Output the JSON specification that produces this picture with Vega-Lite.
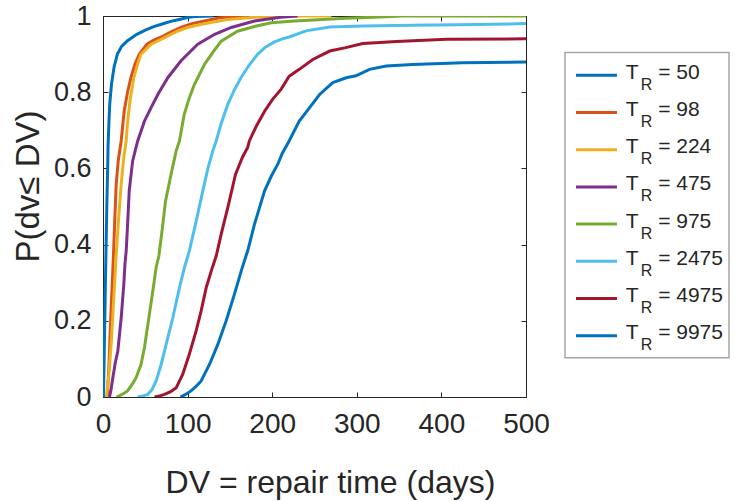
{
  "$schema": "https://vega.github.io/schema/vega-lite/v6.json",
  "background": "white",
  "padding": {"left": 11, "top": 1, "right": 5, "bottom": 2},
  "bounds": "flush",
  "spacing": 39,
  "config": {
    "font": "Liberation Sans",
    "axis": {"domain": false, "grid": false, "labelColor": "#262626", "titleColor": "#262626", "tickColor": "#262626", "labelFont": "Liberation Sans", "titleFont": "Liberation Sans", "titleFontWeight": "normal", "labelFlush": false},
    "view": {"stroke": "#262626", "strokeWidth": 1}
  },
  "datasets": {
    "cdf": [
      {"s":"50","x":0.5,"p":0},{"s":"50","x":1.5,"p":0.12},{"s":"50","x":2.5,"p":0.25},{"s":"50","x":3.5,"p":0.38},{"s":"50","x":4.5,"p":0.5},{"s":"50","x":5.5,"p":0.6},{"s":"50","x":6,"p":0.66},{"s":"50","x":7,"p":0.72},{"s":"50","x":8,"p":0.77},{"s":"50","x":10,"p":0.82},{"s":"50","x":13,"p":0.865},{"s":"50","x":17,"p":0.9},{"s":"50","x":22,"p":0.92},{"s":"50","x":29,"p":0.935},{"s":"50","x":40,"p":0.952},{"s":"50","x":50,"p":0.963},{"s":"50","x":60,"p":0.972},{"s":"50","x":70,"p":0.979},{"s":"50","x":80,"p":0.986},{"s":"50","x":90,"p":0.991},{"s":"50","x":100,"p":0.996},{"s":"50","x":110,"p":0.999},{"s":"50","x":130,"p":1.0},
      {"s":"98","x":5,"p":0},{"s":"98","x":7,"p":0.08},{"s":"98","x":9,"p":0.2},{"s":"98","x":11,"p":0.3},{"s":"98","x":12.5,"p":0.38},{"s":"98","x":14,"p":0.47},{"s":"98","x":15.6,"p":0.558},{"s":"98","x":18,"p":0.62},{"s":"98","x":21.5,"p":0.672},{"s":"98","x":25,"p":0.75},{"s":"98","x":29,"p":0.8},{"s":"98","x":33,"p":0.838},{"s":"98","x":38,"p":0.875},{"s":"98","x":43,"p":0.9},{"s":"98","x":52,"p":0.926},{"s":"98","x":60,"p":0.937},{"s":"98","x":69,"p":0.945},{"s":"98","x":80,"p":0.958},{"s":"98","x":92,"p":0.97},{"s":"98","x":105,"p":0.98},{"s":"98","x":120,"p":0.987},{"s":"98","x":135,"p":0.994},{"s":"98","x":150,"p":0.998},{"s":"98","x":170,"p":1.0},
      {"s":"224","x":4,"p":0},{"s":"224","x":7,"p":0.06},{"s":"224","x":10,"p":0.15},{"s":"224","x":12.5,"p":0.25},{"s":"224","x":15.5,"p":0.37},{"s":"224","x":18.5,"p":0.47},{"s":"224","x":21.5,"p":0.558},{"s":"224","x":24.6,"p":0.63},{"s":"224","x":27.4,"p":0.672},{"s":"224","x":29,"p":0.72},{"s":"224","x":32,"p":0.78},{"s":"224","x":36.5,"p":0.838},{"s":"224","x":41,"p":0.875},{"s":"224","x":45,"p":0.9},{"s":"224","x":57,"p":0.926},{"s":"224","x":72.7,"p":0.943},{"s":"224","x":88,"p":0.96},{"s":"224","x":100,"p":0.97},{"s":"224","x":116,"p":0.978},{"s":"224","x":147,"p":0.991},{"s":"224","x":180,"p":0.997},{"s":"224","x":210,"p":1.0},{"s":"224","x":270,"p":1.0},
      {"s":"475","x":7.7,"p":0},{"s":"475","x":9.5,"p":0.02},{"s":"475","x":11.6,"p":0.05},{"s":"475","x":14.5,"p":0.09},{"s":"475","x":17.5,"p":0.12},{"s":"475","x":21.5,"p":0.208},{"s":"475","x":24.6,"p":0.296},{"s":"475","x":26,"p":0.35},{"s":"475","x":27.4,"p":0.383},{"s":"475","x":29,"p":0.45},{"s":"475","x":31,"p":0.541},{"s":"475","x":35,"p":0.619},{"s":"475","x":38,"p":0.646},{"s":"475","x":41,"p":0.672},{"s":"475","x":49,"p":0.724},{"s":"475","x":57,"p":0.76},{"s":"475","x":64.8,"p":0.794},{"s":"475","x":76.6,"p":0.838},{"s":"475","x":92,"p":0.882},{"s":"475","x":112,"p":0.926},{"s":"475","x":132,"p":0.952},{"s":"475","x":151.5,"p":0.97},{"s":"475","x":179,"p":0.987},{"s":"475","x":210,"p":0.997},{"s":"475","x":230,"p":1.0},
      {"s":"975","x":16,"p":0},{"s":"975","x":22,"p":0.006},{"s":"975","x":29,"p":0.016},{"s":"975","x":35,"p":0.035},{"s":"975","x":39,"p":0.05},{"s":"975","x":45,"p":0.086},{"s":"975","x":49,"p":0.13},{"s":"975","x":53,"p":0.19},{"s":"975","x":58.9,"p":0.278},{"s":"975","x":62.8,"p":0.34},{"s":"975","x":66,"p":0.37},{"s":"975","x":70,"p":0.44},{"s":"975","x":73.9,"p":0.514},{"s":"975","x":80,"p":0.58},{"s":"975","x":86.5,"p":0.646},{"s":"975","x":90.4,"p":0.672},{"s":"975","x":96,"p":0.742},{"s":"975","x":102,"p":0.785},{"s":"975","x":108,"p":0.82},{"s":"975","x":120,"p":0.873},{"s":"975","x":130,"p":0.905},{"s":"975","x":139.7,"p":0.934},{"s":"975","x":159,"p":0.96},{"s":"975","x":180,"p":0.973},{"s":"975","x":199,"p":0.982},{"s":"975","x":226,"p":0.987},{"s":"975","x":260,"p":0.991},{"s":"975","x":287,"p":0.994},{"s":"975","x":320,"p":0.997},{"s":"975","x":354,"p":1.0},{"s":"975","x":500,"p":1.0},
      {"s":"2475","x":41,"p":0},{"s":"2475","x":47,"p":0.003},{"s":"2475","x":53,"p":0.007},{"s":"2475","x":58,"p":0.02},{"s":"2475","x":62.8,"p":0.042},{"s":"2475","x":68.8,"p":0.086},{"s":"2475","x":74.7,"p":0.139},{"s":"2475","x":82.5,"p":0.208},{"s":"2475","x":90.4,"p":0.287},{"s":"2475","x":96.3,"p":0.34},{"s":"2475","x":102,"p":0.383},{"s":"2475","x":110,"p":0.46},{"s":"2475","x":118,"p":0.541},{"s":"2475","x":124,"p":0.6},{"s":"2475","x":129.8,"p":0.646},{"s":"2475","x":133.8,"p":0.672},{"s":"2475","x":140,"p":0.72},{"s":"2475","x":147.5,"p":0.768},{"s":"2475","x":155,"p":0.805},{"s":"2475","x":163,"p":0.838},{"s":"2475","x":173,"p":0.872},{"s":"2475","x":183,"p":0.9},{"s":"2475","x":192,"p":0.918},{"s":"2475","x":202.7,"p":0.932},{"s":"2475","x":212,"p":0.94},{"s":"2475","x":220,"p":0.945},{"s":"2475","x":240,"p":0.961},{"s":"2475","x":268,"p":0.971},{"s":"2475","x":307,"p":0.974},{"s":"2475","x":366,"p":0.976},{"s":"2475","x":445,"p":0.978},{"s":"2475","x":500,"p":0.98},
      {"s":"4975","x":61,"p":0},{"s":"4975","x":67,"p":0.003},{"s":"4975","x":72.7,"p":0.007},{"s":"4975","x":80,"p":0.014},{"s":"4975","x":86.5,"p":0.024},{"s":"4975","x":94.3,"p":0.06},{"s":"4975","x":102,"p":0.112},{"s":"4975","x":110,"p":0.173},{"s":"4975","x":116,"p":0.226},{"s":"4975","x":122,"p":0.287},{"s":"4975","x":128,"p":0.331},{"s":"4975","x":133.8,"p":0.37},{"s":"4975","x":140,"p":0.43},{"s":"4975","x":147.5,"p":0.497},{"s":"4975","x":156.6,"p":0.584},{"s":"4975","x":165,"p":0.63},{"s":"4975","x":171,"p":0.655},{"s":"4975","x":173,"p":0.672},{"s":"4975","x":181,"p":0.71},{"s":"4975","x":191,"p":0.75},{"s":"4975","x":200,"p":0.78},{"s":"4975","x":210.6,"p":0.808},{"s":"4975","x":220,"p":0.842},{"s":"4975","x":232,"p":0.86},{"s":"4975","x":248,"p":0.886},{"s":"4975","x":268,"p":0.908},{"s":"4975","x":287,"p":0.917},{"s":"4975","x":307,"p":0.928},{"s":"4975","x":347,"p":0.933},{"s":"4975","x":406,"p":0.939},{"s":"4975","x":500,"p":0.94},
      {"s":"9975","x":91.6,"p":0},{"s":"9975","x":97,"p":0.006},{"s":"9975","x":104,"p":0.016},{"s":"9975","x":110,"p":0.028},{"s":"9975","x":116,"p":0.042},{"s":"9975","x":126,"p":0.086},{"s":"9975","x":135.7,"p":0.138},{"s":"9975","x":145.6,"p":0.2},{"s":"9975","x":155.4,"p":0.27},{"s":"9975","x":163.4,"p":0.331},{"s":"9975","x":169,"p":0.37},{"s":"9975","x":171,"p":0.383},{"s":"9975","x":179,"p":0.453},{"s":"9975","x":191,"p":0.541},{"s":"9975","x":199,"p":0.58},{"s":"9975","x":206.6,"p":0.611},{"s":"9975","x":212,"p":0.64},{"s":"9975","x":220,"p":0.672},{"s":"9975","x":232,"p":0.724},{"s":"9975","x":244,"p":0.759},{"s":"9975","x":256,"p":0.794},{"s":"9975","x":271.6,"p":0.825},{"s":"9975","x":287.5,"p":0.838},{"s":"9975","x":299,"p":0.843},{"s":"9975","x":315,"p":0.86},{"s":"9975","x":334.7,"p":0.869},{"s":"9975","x":366,"p":0.873},{"s":"9975","x":425,"p":0.877},{"s":"9975","x":500,"p":0.879}
    ],
    "leg": [
      {"s":"50","i":0,"lab":"= 50"},{"s":"98","i":1,"lab":"= 98"},{"s":"224","i":2,"lab":"= 224"},{"s":"475","i":3,"lab":"= 475"},
      {"s":"975","i":4,"lab":"= 975"},{"s":"2475","i":5,"lab":"= 2475"},{"s":"4975","i":6,"lab":"= 4975"},{"s":"9975","i":7,"lab":"= 9975"}
    ]
  },
  "hconcat": [
    {
      "width": 423,
      "height": 381,
      "data": {"name": "cdf"},
      "layer": [
        {
          "mark": {"type": "line", "strokeWidth": 3, "clip": true},
          "encoding": {
            "x": {"field": "x", "type": "quantitative", "scale": {"domain": [0, 500], "nice": false},
                  "axis": {"values": [0,100,200,300,400,500], "tickSize": -5, "labelFontSize": 28, "labelPadding": 18, "title": "DV = repair time (days)", "titleFontSize": 32, "titlePadding": 29, "titleX": 227}},
            "y": {"field": "p", "type": "quantitative", "scale": {"domain": [0, 1], "nice": false},
                  "axis": {"values": [0,0.2,0.4,0.6,0.8,1], "format": "~g", "tickSize": -5, "labelFontSize": 27, "labelPadding": 17, "title": "P(dv≤ DV)", "titleFontSize": 33, "titlePadding": 8, "titleY": 170}},
            "color": {"field": "s", "type": "nominal", "legend": null,
                      "scale": {"domain": ["50","98","224","475","975","2475","4975","9975"], "range": ["#0072BD","#D95319","#EDB120","#7E2F8E","#77AC30","#4DBEEE","#A2142F","#0072BD"]}},
            "order": {"field": "x", "type": "quantitative"}
          }
        },
        {
          "mark": {"type": "rule", "opacity": 0},
          "encoding": {
            "x": {"datum": 0, "type": "quantitative", "axis": {"orient": "top", "values": [0,100,200,300,400,500], "tickSize": -5, "labels": false, "title": null}},
            "y": {"datum": 0, "type": "quantitative", "axis": {"orient": "right", "values": [0,0.2,0.4,0.6,0.8,1], "tickSize": -5, "labels": false, "title": null}}
          }
        }
      ],
      "resolve": {"axis": {"x": "independent", "y": "independent"}}
    },
    {
      "width": 164,
      "height": 381,
      "view": {"stroke": null},
      "data": {"name": "leg"},
      "layer": [
        {
          "data": {"values": [{"box": 1}]},
          "mark": {"type": "rect", "fill": "white", "stroke": "#A6A6A6", "strokeWidth": 1.5},
          "encoding": {
            "x": {"datum": 0, "type": "quantitative", "scale": {"domain": [0, 1], "nice": false, "zero": false}, "axis": null},
            "x2": {"datum": 1},
            "y": {"datum": -0.61, "type": "quantitative", "scale": {"domain": [-1.594, 8.648], "nice": false, "zero": false, "reverse": true}, "axis": null},
            "y2": {"datum": 7.59}
          }
        },
        {
          "mark": {"type": "rule", "strokeWidth": 3},
          "encoding": {
            "x": {"datum": 0.067, "type": "quantitative"},
            "x2": {"datum": 0.317},
            "y": {"field": "i", "type": "quantitative"},
            "color": {"field": "s", "type": "nominal", "legend": null,
                      "scale": {"domain": ["50","98","224","475","975","2475","4975","9975"], "range": ["#0072BD","#D95319","#EDB120","#7E2F8E","#77AC30","#4DBEEE","#A2142F","#0072BD"]}}
          }
        },
        {
          "mark": {"type": "text", "text": "T", "align": "left", "baseline": "alphabetic", "fontSize": 21, "dy": 3.5, "color": "#262626", "font": "Liberation Sans"},
          "encoding": {"x": {"datum": 0.37, "type": "quantitative"}, "y": {"field": "i", "type": "quantitative"}}
        },
        {
          "mark": {"type": "text", "text": "R", "align": "left", "baseline": "alphabetic", "fontSize": 16, "dy": 14.5, "color": "#262626", "font": "Liberation Sans"},
          "encoding": {"x": {"datum": 0.462, "type": "quantitative"}, "y": {"field": "i", "type": "quantitative"}}
        },
        {
          "mark": {"type": "text", "align": "left", "baseline": "alphabetic", "fontSize": 21, "dy": 3.5, "color": "#262626", "font": "Liberation Sans"},
          "encoding": {"x": {"datum": 0.568, "type": "quantitative"}, "y": {"field": "i", "type": "quantitative"}, "text": {"field": "lab"}}
        }
      ]
    }
  ]
}
